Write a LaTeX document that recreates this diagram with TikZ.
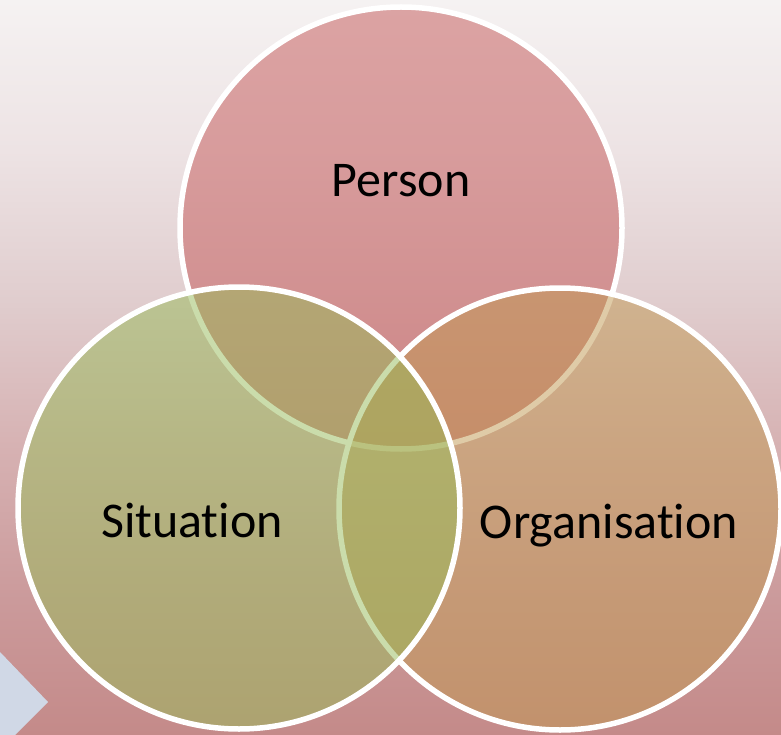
\documentclass[tikz,border=0pt]{standalone}
\usepackage{fontspec}
\setmainfont{Carlito}[Ligatures=NoCommon]
\usetikzlibrary{positioning}

\definecolor{personred}{HTML}{C45656}
\definecolor{orggold}{HTML}{C19951}
\definecolor{sitgreen}{HTML}{97BB58}
\definecolor{chevblue}{HTML}{D0D8E6}
% the path's box sits between 25bp and 75bp of the shading
\pgfdeclareverticalshading{bgfade}{100bp}{color(0bp)=(rgb,255:red,196;green,138;blue,137); color(25bp)=(rgb,255:red,196;green,138;blue,137); color(34.2bp)=(rgb,255:red,203;green,154;blue,155); color(44.4bp)=(rgb,255:red,214;green,177;blue,178); color(54.6bp)=(rgb,255:red,224;green,205;blue,206); color(64.8bp)=(rgb,255:red,237;green,227;blue,228); color(75bp)=(rgb,255:red,245;green,242;blue,242); color(100bp)=(rgb,255:red,245;green,242;blue,242)}

\tikzset{
	venn/.style={circle, draw=white, line width=5.5pt, minimum size=442pt, inner sep=0pt, fill opacity=0.5},
	lbl/.style={anchor=base, text=black, font=\fontsize{50}{60}\selectfont}
}

\begin{document}
\begin{tikzpicture}[x=1pt, y=-1pt]
			\useasboundingbox (0,0) rectangle (781,735);
			\shade[shading=bgfade] (0,0) rectangle (781,735);
			\fill[chevblue] (0,652) -- (48,702) -- (15,735) -- (0,735) -- cycle;
			
			\node[venn, fill=personred] (Person) at (401,228) {};
			\node[venn, fill=orggold] (Organisation) at (560,509) {};
			\node[venn, fill=sitgreen] (Situation) at (239,508) {};
			
			\node[lbl] (PersonL) at (401,197) {Person};
			\node[lbl] (SituationL) at (192,537) {Situation};
			\node[lbl] (OrganisationL) at (609,538) {Organisation};
		\end{tikzpicture}
\end{document}
